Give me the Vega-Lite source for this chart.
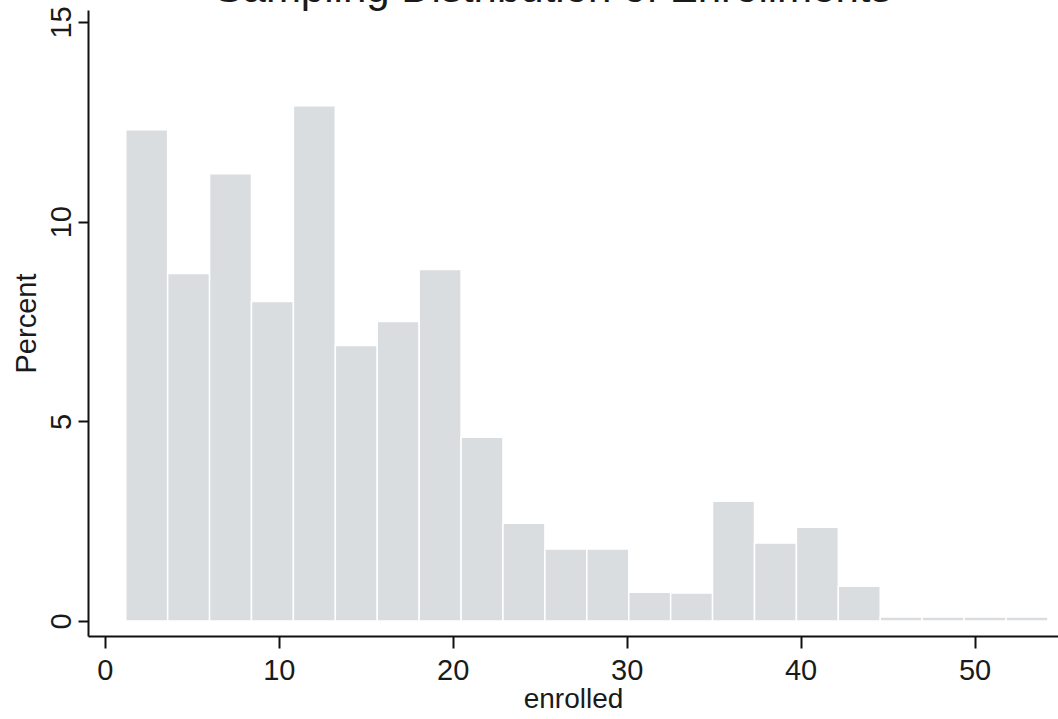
{
  "$schema": "https://vega.github.io/schema/vega-lite/v6.json",
  "autosize": "none",
  "width": 970,
  "height": 626,
  "padding": {"left": 88, "top": 10, "right": 0, "bottom": 83},
  "background": "white",
  "title": {
    "text": "Sampling Distribution of Enrollments",
    "font": "Liberation Sans",
    "fontSize": 42,
    "fontWeight": "normal",
    "color": "#1a1a1a",
    "anchor": "middle",
    "frame": "group",
    "baseline": "alphabetic",
    "offset": -38,
    "dx": -20
  },
  "data": {
    "values": [
      {"lo": 1.2, "hi": 3.61, "percent": 12.3},
      {"lo": 3.61, "hi": 6.02, "percent": 8.7},
      {"lo": 6.02, "hi": 8.43, "percent": 11.2},
      {"lo": 8.43, "hi": 10.84, "percent": 8.0},
      {"lo": 10.84, "hi": 13.25, "percent": 12.9},
      {"lo": 13.25, "hi": 15.66, "percent": 6.9},
      {"lo": 15.66, "hi": 18.07, "percent": 7.5},
      {"lo": 18.07, "hi": 20.48, "percent": 8.8},
      {"lo": 20.48, "hi": 22.89, "percent": 4.6},
      {"lo": 22.89, "hi": 25.3, "percent": 2.45},
      {"lo": 25.3, "hi": 27.71, "percent": 1.8},
      {"lo": 27.71, "hi": 30.12, "percent": 1.8},
      {"lo": 30.12, "hi": 32.53, "percent": 0.72},
      {"lo": 32.53, "hi": 34.94, "percent": 0.7},
      {"lo": 34.94, "hi": 37.35, "percent": 3.0},
      {"lo": 37.35, "hi": 39.76, "percent": 1.95},
      {"lo": 39.76, "hi": 42.17, "percent": 2.35},
      {"lo": 42.17, "hi": 44.58, "percent": 0.87},
      {"lo": 44.58, "hi": 46.99, "percent": 0.1},
      {"lo": 46.99, "hi": 49.4, "percent": 0.1},
      {"lo": 49.4, "hi": 51.81, "percent": 0.1},
      {"lo": 51.81, "hi": 54.22, "percent": 0.1}
    ]
  },
  "mark": {"type": "bar", "color": "#d9dde0", "stroke": "white", "strokeWidth": 1.5},
  "encoding": {
    "x": {
      "field": "lo",
      "type": "quantitative",
      "scale": {"domain": [-0.97, 54.8], "nice": false, "zero": false},
      "axis": {
        "title": "enrolled",
        "values": [0, 10, 20, 30, 40, 50],
        "grid": false,
        "domainColor": "#111",
        "domainWidth": 2,
        "tickColor": "#111",
        "tickWidth": 2,
        "tickSize": 12,
        "labelFont": "Liberation Sans",
        "labelFontSize": 29,
        "labelColor": "#1a1a1a",
        "labelPadding": 8,
        "titleFont": "Liberation Sans",
        "titleFontSize": 28,
        "titleFontWeight": "normal",
        "titleColor": "#1a1a1a",
        "titlePadding": 0
      }
    },
    "x2": {"field": "hi"},
    "y": {
      "field": "percent",
      "type": "quantitative",
      "scale": {"domain": [-0.376, 15.3], "nice": false, "zero": false},
      "axis": {
        "title": "Percent",
        "values": [0, 5, 10, 15],
        "grid": false,
        "domainColor": "#111",
        "domainWidth": 2,
        "tickColor": "#111",
        "tickWidth": 2,
        "tickSize": 10,
        "labelAngle": 270,
        "labelFont": "Liberation Sans",
        "labelFontSize": 29,
        "labelColor": "#1a1a1a",
        "labelPadding": 2,
        "titleFont": "Liberation Sans",
        "titleFontSize": 29,
        "titleFontWeight": "normal",
        "titleColor": "#1a1a1a",
        "titlePadding": 6
      }
    },
    "y2": {"datum": 0}
  },
  "config": {"view": {"stroke": null}}
}
